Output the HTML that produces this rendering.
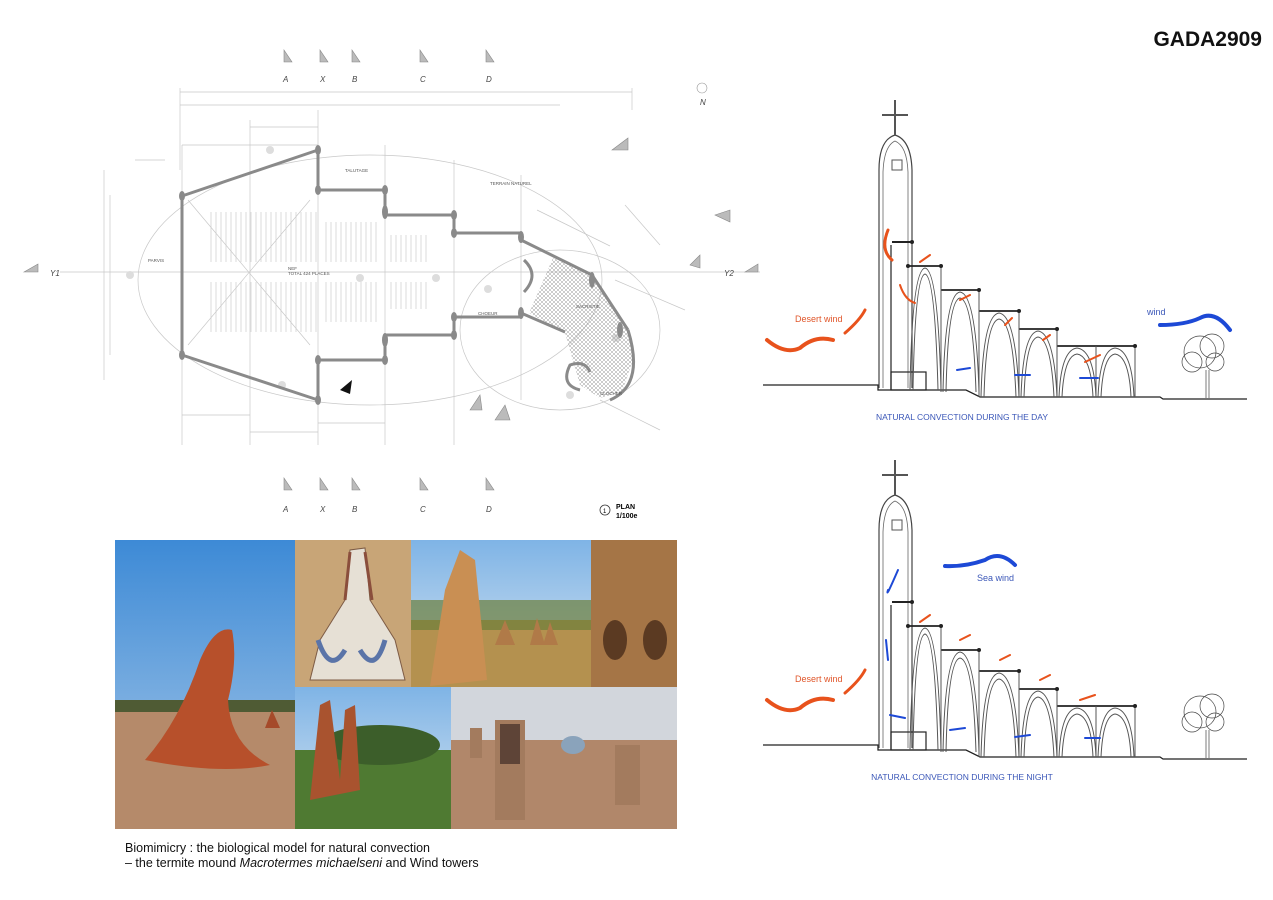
<!DOCTYPE html>
<html><head><meta charset="utf-8"><style>
html,body{margin:0;padding:0;background:#fff;}
body{width:1273px;height:900px;position:relative;overflow:hidden;font-family:"Liberation Sans",sans-serif;}
</style></head><body>
<svg width="1273" height="900" viewBox="0 0 1273 900" xmlns="http://www.w3.org/2000/svg" style="position:absolute;left:0;top:0">
<defs>
<linearGradient id="sky" x1="0" y1="0" x2="0" y2="1"><stop offset="0" stop-color="#3d8ad6"/><stop offset="1" stop-color="#a9c9e8"/></linearGradient>
<linearGradient id="sky2" x1="0" y1="0" x2="0" y2="1"><stop offset="0" stop-color="#7fb4e6"/><stop offset="1" stop-color="#d7e5f0"/></linearGradient>
<pattern id="pews" width="5" height="10" patternUnits="userSpaceOnUse"><line x1="1" y1="0" x2="1" y2="10" stroke="#ccc" stroke-width="0.7"/></pattern>
<pattern id="hatch" width="4" height="4" patternUnits="userSpaceOnUse"><path d="M0,4 L4,0 M0,0 L4,4" stroke="#999" stroke-width="0.5"/></pattern>
<g id="sec">
 <polyline points="763,385 878,385 878,390 966,390 980,397 1135,397 1160,397 1163,399 1247,399" fill="none" stroke="#222" stroke-width="1.3"/>
 <path d="M879,388 L879,170 Q879,140 895,135 Q911,140 912,170 L912,388" fill="none" stroke="#444" stroke-width="1.2"/>
 <path d="M883,388 L883,172 Q884,146 895,141 Q907,146 908,172 L908,388" fill="none" stroke="#666" stroke-width="0.8"/>
 <line x1="895" y1="100" x2="895" y2="136" stroke="#555" stroke-width="2"/>
 <line x1="882" y1="115" x2="908" y2="115" stroke="#555" stroke-width="2"/>
 <rect x="892" y="160" width="10" height="10" fill="none" stroke="#555"/>
 <line x1="892" y1="242" x2="912" y2="242" stroke="#222" stroke-width="2"/>
 <line x1="891" y1="245" x2="891" y2="390" stroke="#222" stroke-width="1.2"/>
 <rect x="891" y="372" width="35" height="18" fill="none" stroke="#222" stroke-width="1.2"/>
 <g fill="none" stroke="#222" stroke-width="1.8">
  <line x1="908" y1="266" x2="941" y2="266"/><line x1="941" y1="290" x2="979" y2="290"/>
  <line x1="979" y1="311" x2="1019" y2="311"/><line x1="1019" y1="329" x2="1057" y2="329"/>
  <line x1="1057" y1="346" x2="1135" y2="346"/>
 </g>
 <g fill="none" stroke="#555" stroke-width="1">
  <line x1="941" y1="266" x2="941" y2="392"/><line x1="979" y1="290" x2="979" y2="397"/>
  <line x1="1019" y1="311" x2="1019" y2="397"/><line x1="1057" y1="329" x2="1057" y2="397"/>
  <line x1="1096" y1="346" x2="1096" y2="397"/><line x1="1135" y1="346" x2="1135" y2="397"/>
  <path d="M910,390 Q912,270 925,268 Q938,270 941,390"/><path d="M913,390 Q915,276 925,274 Q935,276 938,390"/>
  <path d="M943,392 Q945,294 960,292 Q976,294 979,392"/><path d="M946,392 Q948,300 960,298 Q973,300 976,392"/>
  <path d="M981,397 Q983,315 999,313 Q1016,315 1019,397"/><path d="M984,397 Q986,321 999,319 Q1013,321 1016,397"/>
  <path d="M1021,397 Q1023,333 1038,331 Q1054,333 1057,397"/><path d="M1024,397 Q1026,339 1038,337 Q1051,339 1054,397"/>
  <path d="M1059,397 Q1061,350 1077,348 Q1094,350 1096,397"/><path d="M1062,397 Q1064,356 1077,354 Q1091,356 1093,397"/>
  <path d="M1098,397 Q1100,350 1115,348 Q1132,350 1134,397"/><path d="M1101,397 Q1103,356 1115,354 Q1129,356 1131,397"/>
 </g>
 <g fill="#222"><circle cx="908" cy="266" r="2"/><circle cx="941" cy="266" r="2"/><circle cx="979" cy="290" r="2"/><circle cx="1019" cy="311" r="2"/><circle cx="1057" cy="329" r="2"/><circle cx="1135" cy="346" r="2"/><circle cx="912" cy="242" r="2"/></g>
 <g fill="none" stroke="#444" stroke-width="0.7">
  <circle cx="1200" cy="352" r="16"/><circle cx="1212" cy="346" r="12"/><circle cx="1192" cy="362" r="10"/><circle cx="1215" cy="362" r="9"/>
  <line x1="1206" y1="370" x2="1206" y2="398"/><line x1="1209" y1="370" x2="1209" y2="398"/>
 </g>
</g>
</defs>

<text x="1262" y="46" text-anchor="end" font-size="21" font-weight="bold" fill="#111">GADA2909</text>

<!-- PLAN -->
<g fill="none" stroke="#c8c8c8" stroke-width="0.7">
 <ellipse cx="370" cy="280" rx="232" ry="125"/>
 <ellipse cx="560" cy="330" rx="100" ry="80"/>
 <line x1="180" y1="92" x2="632" y2="92"/><line x1="180" y1="88" x2="180" y2="170"/><line x1="632" y1="88" x2="632" y2="110"/>
 <line x1="180" y1="105" x2="560" y2="105"/>
 <line x1="60" y1="272" x2="760" y2="272"/>
 <line x1="182" y1="145" x2="182" y2="445"/><line x1="250" y1="120" x2="250" y2="445"/><line x1="318" y1="110" x2="318" y2="445"/>
 <line x1="385" y1="145" x2="385" y2="445"/><line x1="454" y1="160" x2="454" y2="445"/><line x1="521" y1="175" x2="521" y2="400"/>
 <line x1="104" y1="170" x2="104" y2="380"/><line x1="110" y1="195" x2="110" y2="355"/><line x1="135" y1="160" x2="165" y2="160"/>
 <line x1="182" y1="415" x2="250" y2="415"/><line x1="250" y1="432" x2="318" y2="432"/><line x1="318" y1="423" x2="385" y2="423"/>
 <line x1="182" y1="145" x2="318" y2="145"/><line x1="250" y1="127" x2="318" y2="127"/>
 <line x1="188" y1="200" x2="310" y2="345"/><line x1="188" y1="345" x2="310" y2="200"/>
 <line x1="537" y1="210" x2="610" y2="246"/><line x1="615" y1="280" x2="685" y2="310"/>
 <line x1="600" y1="400" x2="660" y2="430"/><line x1="625" y1="205" x2="660" y2="245"/>
</g>
<rect x="210" y="212" width="110" height="50" fill="url(#pews)"/>
<rect x="210" y="282" width="110" height="50" fill="url(#pews)"/>
<rect x="325" y="222" width="55" height="40" fill="url(#pews)"/>
<rect x="325" y="282" width="55" height="40" fill="url(#pews)"/>
<rect x="390" y="235" width="40" height="27" fill="url(#pews)"/>
<rect x="390" y="282" width="40" height="27" fill="url(#pews)"/>
<g fill="#ddd"><circle cx="270" cy="150" r="4"/><circle cx="282" cy="385" r="4"/><circle cx="360" cy="278" r="4"/><circle cx="436" cy="278" r="4"/><circle cx="130" cy="275" r="4"/><circle cx="616" cy="338" r="4"/><circle cx="570" cy="395" r="4"/><circle cx="488" cy="289" r="4"/></g>
<polygon points="553,258 592,275 628,330 633,360 622,392 600,398 580,385 565,333 529,313" fill="url(#hatch)" stroke="none"/>
<g fill="none" stroke="#8a8a8a" stroke-width="3" stroke-linejoin="round">
 <polyline points="182,196 318,150 318,190 385,190 385,215 454,215 454,233 521,233"/>
 <polyline points="182,355 318,400 318,360 385,360 385,335 454,335 454,317 521,317"/>
 <line x1="182" y1="196" x2="182" y2="355"/>
 <polyline points="521,240 592,275 628,330"/>
 <polyline points="521,313 565,332"/>
 <path d="M628,330 Q645,385 610,400"/>
 <path d="M580,390 Q560,385 570,365 Q585,360 590,372"/>
 <path d="M524,260 Q540,275 524,292"/>
</g>
<g fill="#8a8a8a"><ellipse cx="318" cy="150" rx="3" ry="5"/><ellipse cx="318" cy="190" rx="3" ry="5"/><ellipse cx="385" cy="190" rx="3" ry="5"/><ellipse cx="385" cy="212" rx="3" ry="7"/><ellipse cx="454" cy="215" rx="3" ry="5"/><ellipse cx="454" cy="233" rx="3" ry="5"/><ellipse cx="521" cy="237" rx="3" ry="6"/><ellipse cx="318" cy="400" rx="3" ry="5"/><ellipse cx="318" cy="360" rx="3" ry="5"/><ellipse cx="385" cy="360" rx="3" ry="5"/><ellipse cx="385" cy="340" rx="3" ry="7"/><ellipse cx="454" cy="335" rx="3" ry="5"/><ellipse cx="454" cy="317" rx="3" ry="5"/><ellipse cx="521" cy="313" rx="3" ry="6"/><ellipse cx="182" cy="196" rx="3" ry="5"/><ellipse cx="182" cy="355" rx="3" ry="5"/><ellipse cx="592" cy="280" rx="3" ry="8"/><ellipse cx="620" cy="330" rx="3" ry="8"/></g>
<g font-size="4.5" fill="#555">
 <text x="288" y="270">NEF</text><text x="288" y="275">TOTAL 424 PLACES</text>
 <text x="148" y="262">PARVIS</text><text x="478" y="315">CHOEUR</text><text x="576" y="308">SACRISTIE</text>
 <text x="600" y="395">CLOCHER</text><text x="345" y="172">TALUTAGE</text><text x="490" y="185">TERRAIN NATUREL</text>
</g>
<g fill="#bbb" stroke="#888" stroke-width="0.6">
 <polygon points="284,50 292,62 284,62"/><polygon points="320,50 328,62 320,62"/><polygon points="352,50 360,62 352,62"/><polygon points="420,50 428,62 420,62"/><polygon points="486,50 494,62 486,62"/>
 <polygon points="284,478 292,490 284,490"/><polygon points="320,478 328,490 320,490"/><polygon points="352,478 360,490 352,490"/><polygon points="420,478 428,490 420,490"/><polygon points="486,478 494,490 486,490"/>
 <polygon points="24,272 38,264 38,272"/><polygon points="745,272 758,264 758,272"/>
 <polygon points="612,150 628,138 628,150"/><polygon points="715,215 730,210 730,222"/><polygon points="495,420 505,405 510,420"/>
 <polygon points="470,410 480,395 482,410"/><polygon points="690,265 700,255 700,268"/>
</g>
<g font-size="8" fill="#444" font-style="italic">
 <text x="283" y="82">A</text><text x="320" y="82">X</text><text x="352" y="82">B</text><text x="420" y="82">C</text><text x="486" y="82">D</text>
 <text x="283" y="512">A</text><text x="320" y="512">X</text><text x="352" y="512">B</text><text x="420" y="512">C</text><text x="486" y="512">D</text>
 <text x="50" y="276">Y1</text><text x="724" y="276">Y2</text><text x="700" y="105">N</text>
</g>
<circle cx="702" cy="88" r="5" fill="none" stroke="#999" stroke-width="0.6"/>
<polygon points="340,390 352,380 350,394" fill="#111"/>
<circle cx="605" cy="510" r="5" fill="none" stroke="#333" stroke-width="0.8"/>
<text x="603" y="513" font-size="6">1</text>
<text x="616" y="509" font-size="7" font-weight="bold">PLAN</text>
<text x="616" y="518" font-size="7" font-weight="bold">1/100e</text>

<!-- PHOTOS -->
<rect x="115" y="540" width="180" height="289" fill="url(#sky)"/>
<rect x="115" y="700" width="180" height="129" fill="#b58a6a"/>
<rect x="115" y="700" width="180" height="12" fill="#4f5b34"/>
<path d="M145,760 Q180,720 200,660 Q215,625 232,630 Q238,660 228,700 Q230,745 270,765 Q220,775 145,760Z" fill="#b7502b"/>
<path d="M265,728 L272,710 L280,728Z" fill="#a54a2a"/>
<rect x="295" y="540" width="116" height="147" fill="#c8a577"/>
<path d="M310,680 L320,640 L345,600 L350,550 L365,548 L370,600 L395,640 L405,680Z" fill="#e6e0d5" stroke="#7d5b45"/>
<path d="M318,640 Q330,675 345,650 M385,640 Q375,675 360,650" stroke="#5a74a8" stroke-width="5" fill="none"/>
<path d="M345,600 L350,552 M365,552 L372,600" stroke="#8a4e3c" stroke-width="3" fill="none"/>
<rect x="411" y="540" width="180" height="147" fill="url(#sky2)"/>
<rect x="411" y="620" width="180" height="67" fill="#b4914f"/>
<rect x="411" y="600" width="180" height="30" fill="#6c7f3a" opacity="0.7"/>
<path d="M430,686 L445,590 L460,550 L475,560 L487,680Z" fill="#c98f53"/>
<path d="M495,645 L505,620 L515,645Z M530,645 L537,618 L545,645Z M543,645 L550,622 L558,645Z" fill="#b07a48"/>
<rect x="591" y="540" width="86" height="147" fill="#a57546"/>
<ellipse cx="615" cy="640" rx="12" ry="20" fill="#5b3a22"/><ellipse cx="655" cy="640" rx="12" ry="20" fill="#5b3a22"/>
<rect x="295" y="687" width="156" height="142" fill="url(#sky2)"/>
<rect x="295" y="750" width="156" height="79" fill="#4f7a32"/>
<ellipse cx="380" cy="745" rx="60" ry="20" fill="#3c5e2a"/>
<path d="M310,800 L320,705 L330,700 L340,780 L345,710 L355,705 L360,790Z" fill="#a9532f"/>
<rect x="451" y="687" width="226" height="142" fill="#d2d6dc"/>
<rect x="451" y="740" width="226" height="89" fill="#b1876a"/>
<rect x="495" y="720" width="30" height="100" fill="#a37b5e"/><rect x="500" y="724" width="20" height="40" fill="#5e4437"/>
<rect x="615" y="745" width="25" height="60" fill="#a37b5e"/><rect x="470" y="728" width="12" height="30" fill="#a37b5e"/>
<ellipse cx="573" cy="745" rx="12" ry="9" fill="#8aa3bb"/>

<text x="125" y="852" font-size="12.5" fill="#111">Biomimicry : the biological model for natural convection</text>
<text x="125" y="867" font-size="12.5" fill="#111">– the termite mound <tspan font-style="italic">Macrotermes michaelseni</tspan> and Wind towers</text>

<!-- SECTIONS -->
<use href="#sec"/>
<use href="#sec" transform="translate(0,360)"/>
<text x="962" y="420" text-anchor="middle" font-size="8.5" fill="#3b57b8">NATURAL CONVECTION DURING THE DAY</text>
<text x="962" y="780" text-anchor="middle" font-size="8.5" fill="#3b57b8">NATURAL CONVECTION DURING THE NIGHT</text>
<text x="795" y="322" font-size="9" fill="#e0562a">Desert wind</text>
<text x="795" y="682" font-size="9" fill="#e0562a">Desert wind</text>
<text x="1147" y="315" font-size="9" fill="#3b57b8">wind</text>
<text x="977" y="581" font-size="9" fill="#3b57b8">Sea wind</text>
<g fill="none" stroke-linecap="round">
 <path d="M767,340 Q785,355 800,348 Q815,335 833,340" stroke="#e8521c" stroke-width="4"/>
 <path d="M845,333 Q860,320 865,310" stroke="#e8521c" stroke-width="3"/>
 <path d="M1230,330 Q1215,310 1200,318 Q1185,325 1160,325" stroke="#1d49d6" stroke-width="4"/>
 <path d="M888,230 Q880,250 892,260" stroke="#e8521c" stroke-width="3"/>
 <path d="M900,285 Q905,300 915,303" stroke="#e8521c" stroke-width="2"/>
 <path d="M957,370 L970,368 M1015,375 L1030,375 M1080,378 L1098,378" stroke="#1d49d6" stroke-width="2"/>
 <path d="M767,700 Q785,715 800,708 Q815,695 833,700" stroke="#e8521c" stroke-width="4"/>
 <path d="M845,693 Q860,680 865,670" stroke="#e8521c" stroke-width="3"/>
 <path d="M1015,565 Q1000,550 985,560 Q965,567 945,566" stroke="#1d49d6" stroke-width="4"/>
 <path d="M888,590 Q885,600 898,570 M886,640 L888,660 M890,715 L905,718 M950,730 L965,728 M1015,737 L1030,735 M1085,738 L1100,738" stroke="#1d49d6" stroke-width="2"/>
 <path d="M920,622 L930,615 M960,640 L970,635 M1000,660 L1010,655 M1040,680 L1050,675 M1080,700 L1095,695" stroke="#e8521c" stroke-width="2"/>
 <path d="M920,262 L930,255 M960,300 L970,295 M1005,325 L1012,318 M1043,340 L1050,335 M1085,362 L1100,355" stroke="#e8521c" stroke-width="2"/>
</g>
</svg>
</body></html>
